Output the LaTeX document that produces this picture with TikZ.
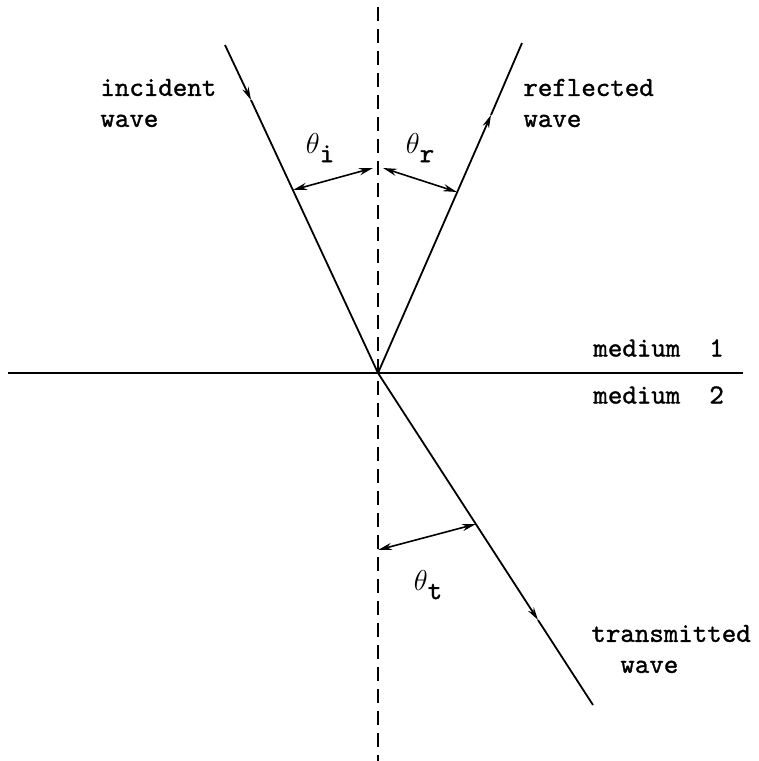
\documentclass[tikz,border=0pt]{standalone}
\usepackage{fontspec}
\usetikzlibrary{arrows.meta}

\newfontface\typefont{lmmono10-regular.otf}[FakeBold=1.2]

\tikzset{
    ray/.style={line width=0.9pt},
    normal/.style={line width=1.3pt, dash pattern=on 7pt off 4pt},
    angarrow/.style={line width=0.8pt, {Stealth[length=7pt,width=3.6pt]}-{Stealth[length=7pt,width=3.6pt]}},
    midarrow/.style={line width=0.9pt, -{Stealth[length=6.5pt,width=3.4pt]}},
    lbl/.style={font=\fontsize{13.8}{15.5}\selectfont\typefont, inner sep=0pt, align=left},
    anglbl/.style={font=\fontsize{13.8}{15.5}\selectfont\typefont, inner sep=0pt}
}

\begin{document}
\begin{tikzpicture}[x=0.5pt, y=-0.5pt]
    \useasboundingbox (0,0) rectangle (759,761);

    % Point of incidence and ends of the rays
    \coordinate (O) at (378,373);
    \coordinate (inctop) at (225,45);
    \coordinate (reftop) at (522,43);
    \coordinate (trnend) at (593,705);

    % Arrow positions along the rays
    \coordinate (incmid) at (251,100);
    \coordinate (refmid) at (491,115);
    \coordinate (trnmid) at (538,620);

    % Normal and interface
    \coordinate (ntop) at (378,7);
    \coordinate (nbot) at (378,761);
    \coordinate (ileft) at (8,373);
    \coordinate (iright) at (743,373);
    \draw[normal] (ntop) -- (nbot);
    \draw[ray] (ileft) -- (iright);

    % Incident wave
    \draw[midarrow] (inctop) -- (incmid);
    \draw[ray] (incmid) -- (O);
    % Reflected wave
    \draw[midarrow] (O) -- (refmid);
    \draw[ray] (refmid) -- (reftop);
    % Transmitted wave
    \draw[midarrow] (O) -- (trnmid);
    \draw[ray] (trnmid) -- (trnend);

    % Angle arrows
    \coordinate (thia) at (293,190);
    \coordinate (thib) at (373,168);
    \coordinate (thra) at (383,168);
    \coordinate (thrb) at (457,192);
    \coordinate (thta) at (378,550);
    \coordinate (thtb) at (476,524);
    \draw[angarrow] (thia) -- (thib);
    \draw[angarrow] (thra) -- (thrb);
    \draw[angarrow] (thta) -- (thtb);

    % Angle labels
    \node[anglbl] (thi) at (320,148) {$\theta$\raisebox{-0.7ex}{i}};
    \node[anglbl] (thr) at (420,148) {$\theta$\raisebox{-0.7ex}{r}};
    \node[anglbl] (tht) at (428,585) {$\theta$\raisebox{-0.7ex}{t}};

    % Wave and medium labels
    \node[lbl, anchor=west] (inclbl) at (100,103) {incident\\wave};
    \node[lbl, anchor=west] (reflbl) at (523,103) {reflected\\wave};
    \node[lbl, anchor=west] (med1) at (593,348) {medium\ \ 1};
    \node[lbl, anchor=west] (med2) at (593,395) {medium\ \ 2};
    \node[lbl, anchor=west] (trnlbl) at (591,649) {transmitted\\\ \ wave};
\end{tikzpicture}
\end{document}
